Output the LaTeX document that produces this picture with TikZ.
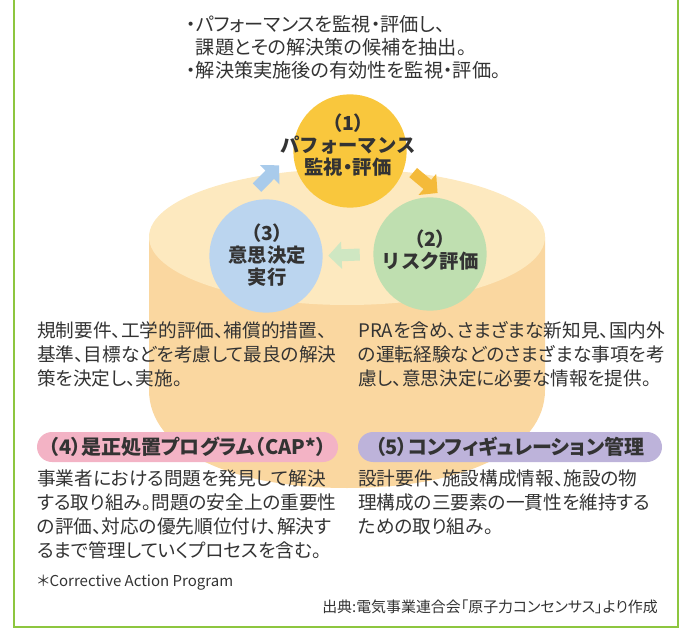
\documentclass[tikz,border=0pt]{standalone}
\usepackage{fontspec}
\setmainfont{Noto Sans CJK JP}[RawFeature=+palt]
\usepackage{tikz}
\usetikzlibrary{arrows.meta}
\definecolor{txt}{HTML}{333333}
\definecolor{frame}{HTML}{8DC63F}
\definecolor{bodyc}{HTML}{FAD7A0}
\definecolor{topc}{HTML}{FDE9BF}
\definecolor{yellowc}{HTML}{F9C73D}
\definecolor{greenc}{HTML}{BFDFB0}
\definecolor{bluec}{HTML}{BBD5EF}
\definecolor{yarrow}{HTML}{F4BA3A}
\definecolor{garrow}{HTML}{CFE7C2}
\definecolor{barrow}{HTML}{A9CBEB}
\definecolor{pinkc}{HTML}{F3B3C5}
\definecolor{purplec}{HTML}{BDB3DA}

\begin{document}
\begin{tikzpicture}[x=0.75pt,y=-0.75pt]
\tikzset{circ/.style = {shape=circle,minimum size=85pt,inner sep=0pt}}
\tikzset{circtext/.style = {align=center,inner sep=0pt,font=\fontsize{14.5pt}{16.5pt}\selectfont\bfseries,text=txt}}
\tikzset{para/.style = {align=left,anchor=north west,inner sep=0pt,font=\fontsize{14pt}{18pt}\selectfont,text=txt}}
\tikzset{pill/.style = {rounded corners=11.25pt,minimum height=22.5pt,inner sep=0pt,font=\fontsize{15pt}{16pt}\selectfont\bfseries,text=txt}}
\tikzset{blockarrow/.style = {line width=9pt,-{Triangle[width=20pt,length=10pt]}}}

\useasboundingbox (0,0) rectangle (684,630);
\draw[frame,line width=2pt] (14,-5) -- (14,627) -- (678,627) -- (678,-5);

%cylinder
\fill[bodyc] (149,237) -- (149,390) .. controls (149,450) and (230,488) .. (347,488)
  .. controls (464,488) and (545,450) .. (545,390) -- (545,237) -- cycle;
\fill[topc] (347,237) ellipse [x radius=198, y radius=68];

\node[para,font=\fontsize{14.4pt}{17.25pt}\selectfont] (intro) at (186,15)
  {・パフォーマンスを監視・評価し、\\\phantom{・}課題とその解決策の候補を抽出。\\・解決策実施後の有効性を監視・評価。};

%cycle
\node[circ,fill=yellowc] (perf) at (350,151) {};
\node[circ,fill=greenc] (risk) at (430,254) {};
\node[circ,fill=bluec] (decide) at (266,256) {};

\draw[blockarrow,yarrow,shorten <=8pt,shorten >=7pt] (perf.-15) -- (risk.75);
\draw[blockarrow,garrow,shorten <=10pt,shorten >=4pt] (risk.west) -- (decide.east);
\draw[blockarrow,barrow,shorten <=19pt,shorten >=15pt] (decide.118) -- (perf.180);

\node[circtext] (perf-text) at (348,145) {（1）\\{\addfontfeature{RawFeature=-palt}パフォーマンス}\\監視・評価};
\node[circtext] (risk-text) at (430,250) {（2）\\{\addfontfeature{RawFeature=-palt}リスク評価}};
\node[circtext] (decide-text) at (267,255) {（3）\\意思決定\\実行};

%descriptions
\node[para] (decide-note) at (37,321)
  {規制要件、工学的評価、補償的措置、\\基準、目標などを考慮して最良の解決\\策を決定し、実施。};
\node[para] (risk-note) at (358,321)
  {PRAを含め、さまざまな新知見、国内外\\の運転経験などのさまざまな事項を考\\慮し、意思決定に必要な情報を提供。};

\node[pill,fill=pinkc,minimum width=225.75pt] (cap) at (187.5,447) {（4）是正処置プログラム（CAP*）};
\node[pill,fill=purplec,minimum width=228pt] (config) at (510,447) {（5）コンフィギュレーション管理};

\node[para] (cap-note) at (37,470)
  {事業者における問題を発見して解決\\する取り組み。問題の安全上の重要性\\の評価、対応の優先順位付け、解決す\\るまで管理していくプロセスを含む。};
\node[para] (config-note) at (358,470)
  {設計要件、施設構成情報、施設の物\\理構成の三要素の一貫性を維持する\\ための取り組み。};

\node[para,font=\fontsize{11.25pt}{13pt}\selectfont] (footnote) at (37,575) {＊Corrective Action Program};
\node[para,anchor=north east,font=\fontsize{11.2pt}{13pt}\selectfont] (source) at (658,600)
  {出典:電気事業連合会「原子力コンセンサス」より作成};
\end{tikzpicture}
\end{document}
